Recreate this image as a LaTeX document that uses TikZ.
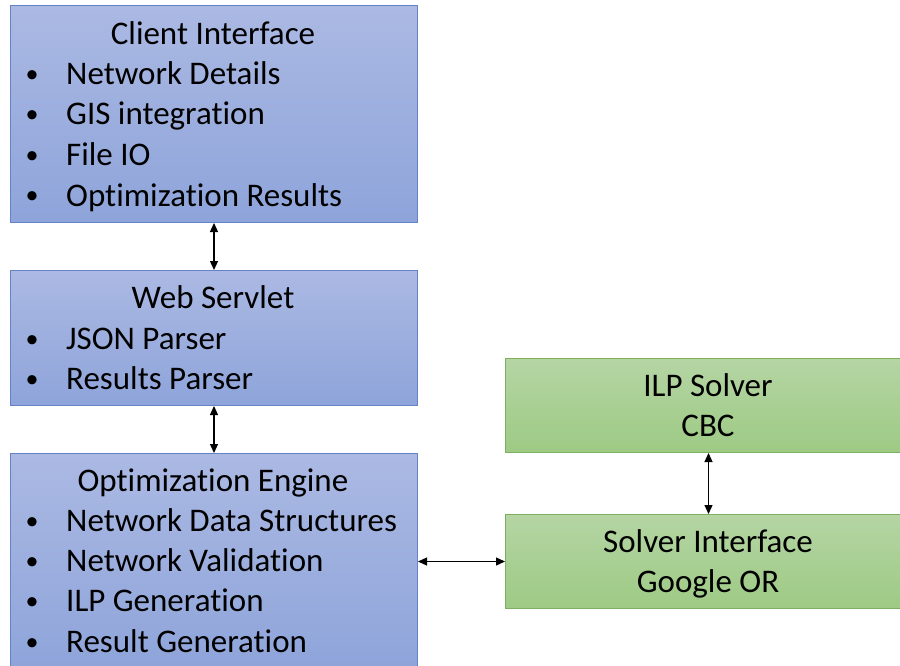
\documentclass[tikz,border=0pt]{standalone}
\usepackage{fontspec}
\setmainfont{Carlito}[Ligatures={NoCommon}]
\usetikzlibrary{arrows.meta}
\definecolor{bluetop}{RGB}{171,185,227}
\definecolor{bluebot}{RGB}{142,164,218}
\definecolor{blueline}{RGB}{100,130,200}
\definecolor{greentop}{RGB}{181,213,164}
\definecolor{greenbot}{RGB}{157,202,132}
\definecolor{greenline}{RGB}{125,175,95}
\tikzset{
  bluebox/.style={draw=blueline, line width=1pt, top color=bluetop, bottom color=bluebot, minimum width=407pt, inner sep=0pt, anchor=north west},
  greenbox/.style={draw=greenline, line width=1pt, top color=greentop, bottom color=greenbot, minimum width=400pt, inner sep=0pt, anchor=north west},
  txt/.style={font=\fontsize{33pt}{40pt}\selectfont, inner sep=0pt, anchor=base, yshift=-2pt},
  item/.style={txt, anchor=base west},
  bul/.style={font=\fontsize{26pt}{30pt}\selectfont, inner sep=0pt, anchor=base, yshift=-2pt},
  link/.style={line width=1.2pt, {Triangle[length=9pt,width=8pt]}-{Triangle[length=9pt,width=8pt]}}
}
\begin{document}
\begin{tikzpicture}[x=1pt,y=-1pt]
\useasboundingbox (0,0) rectangle (900,666);
\fill[white] (0,0) rectangle (900,666);
% boxes
\node[bluebox, minimum height=217pt] (client) at (10,5) {};
\node[bluebox, minimum height=135pt] (web) at (10,270) {};
\node[bluebox, minimum height=217pt] (opt) at (10,453) {};
\node[greenbox, minimum height=94pt] (ilp) at (505,358) {};
\node[greenbox, minimum height=94pt] (solver) at (505,514) {};
% client text
\node[txt] (ct) at (213,43) {Client Interface};
\node[bul] (cb1) at (32,81) {•}; \node[item] (ci1) at (66,83) {Network Details};
\node[bul] (cb2) at (32,121) {•}; \node[item] (ci2) at (66,123) {GIS integration};
\node[bul] (cb3) at (32,162) {•}; \node[item] (ci3) at (66,164) {File IO};
\node[bul] (cb4) at (32,202) {•}; \node[item] (ci4) at (66,204) {Optimization Results};
% web text
\node[txt] (wt) at (213,306) {Web Servlet};
\node[bul] (wb1) at (32,345) {•}; \node[item] (wi1) at (66,347) {JSON Parser};
\node[bul] (wb2) at (32,385) {•}; \node[item] (wi2) at (66,387) {Results Parser};
% opt text
\node[txt] (ot) at (213,489) {Optimization Engine};
\node[bul] (ob1) at (32,527) {•}; \node[item] (oi1) at (66,529) {Network Data Structures};
\node[bul] (ob2) at (32,567) {•}; \node[item] (oi2) at (66,569) {Network Validation};
\node[bul] (ob3) at (32,607) {•}; \node[item] (oi3) at (66,609) {ILP Generation};
\node[bul] (ob4) at (32,648) {•}; \node[item] (oi4) at (66,650) {Result Generation};
% green text
\node[txt] (it1) at (708,394) {ILP Solver};
\node[txt] (it2) at (708,434) {CBC};
\node[txt] (st1) at (708,550) {Solver Interface};
\node[txt] (st2) at (708,590) {Google OR};
% connectors
\draw[link] (client.south) -- (web.north);
\draw[link] (web.south) -- (opt.north);
\draw[link] (opt.east |- solver.west) -- (solver.west);
\draw[link] ([xshift=3pt]ilp.south) -- ([xshift=3pt]solver.north);
\end{tikzpicture}
\end{document}
